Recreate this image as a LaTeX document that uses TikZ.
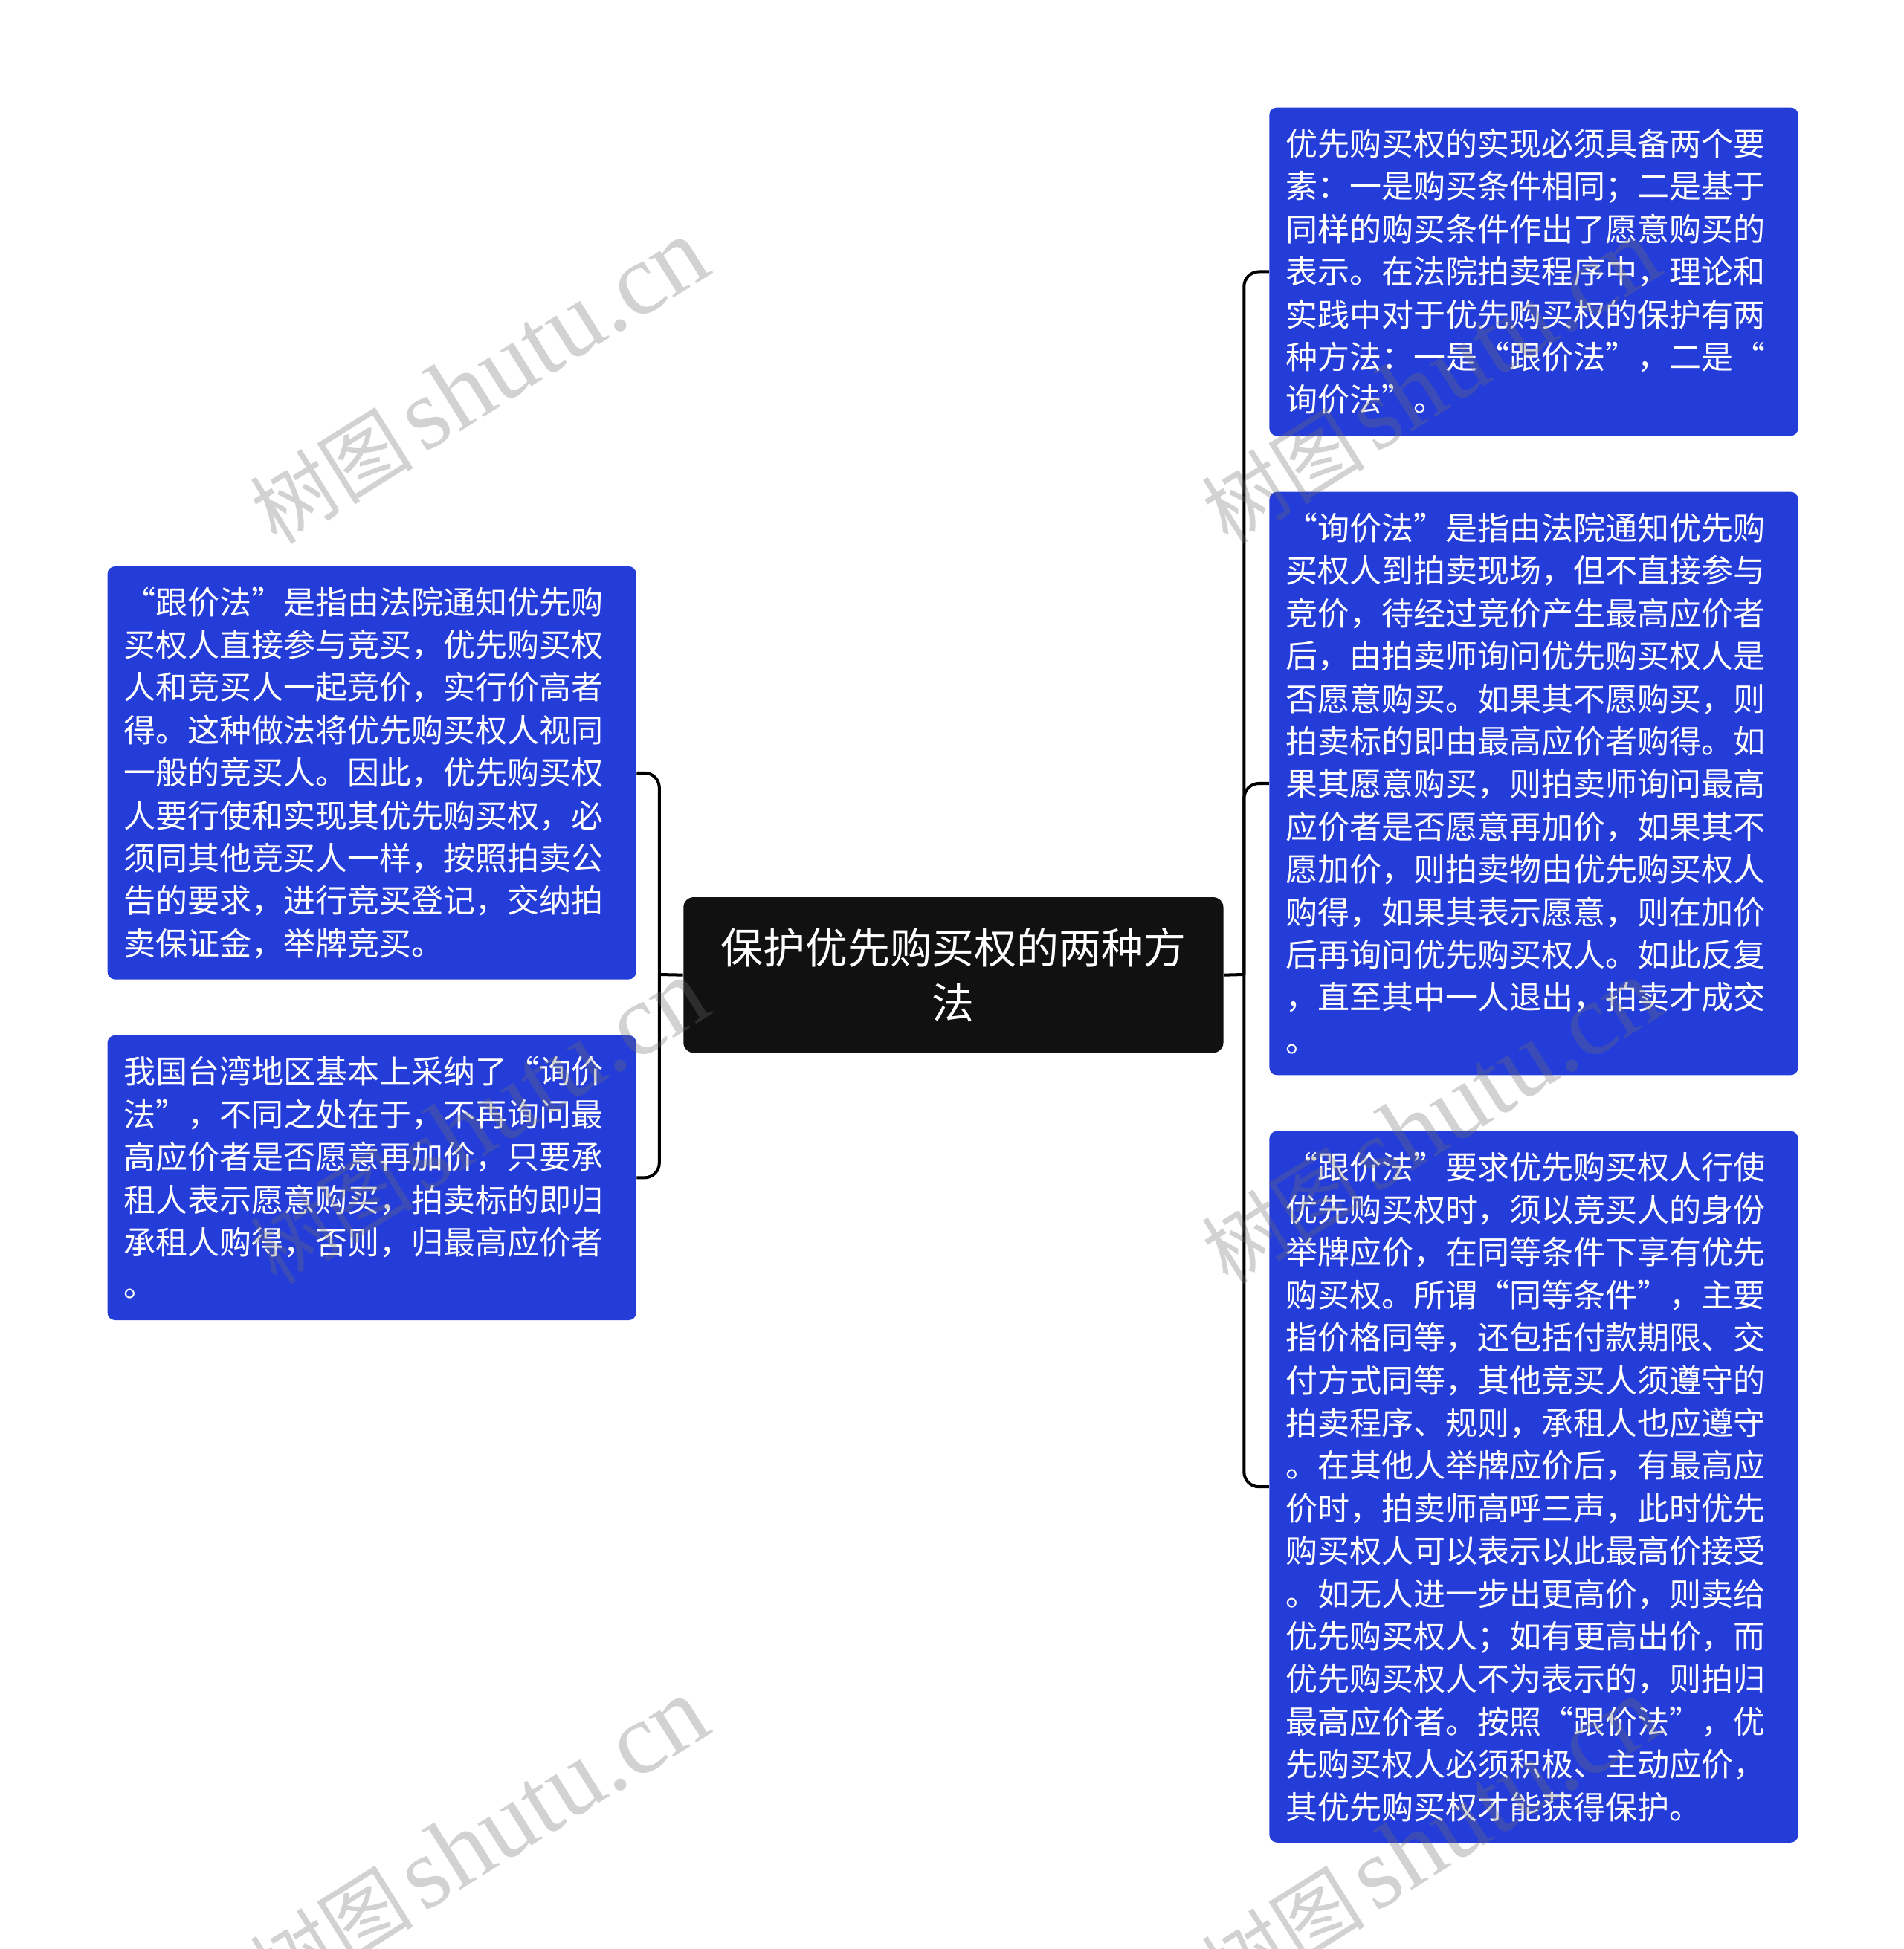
\documentclass[tikz,border=0pt]{standalone}
\usepackage{fontspec}
\setmainfont{Noto Sans CJK SC}[RawFeature=+fwid]
\newfontfamily\wmlatin{Liberation Serif}
\newfontfamily\wmcjk{Noto Sans CJK SC}
\definecolor{boxblue}{RGB}{37,61,216}
\definecolor{rootblack}{RGB}{17,17,17}
\definecolor{wmgray}{RGB}{110,110,110}
\newcommand{\wmtext}{{\wmcjk\fontsize{33}{36}\selectfont 树图}\hspace{4pt}{\wmlatin\fontsize{41}{44}\selectfont shutu.cn}}
\begin{document}
\begin{tikzpicture}[x=0.5pt,y=-0.5pt,
  leaf/.style={fill=boxblue, rounded corners=3pt, text=white, align=left,
    text width=199.5pt, inner xsep=6.5pt, inner ysep=0pt, minimum width=212.5pt,
    font=\fontsize{12.85}{17.15}\selectfont, anchor=north west},
  rootbox/.style={fill=rootblack, rounded corners=4pt, text=white, align=center,
    text width=205pt, inner xsep=6pt, inner ysep=0pt, minimum width=217pt, minimum height=62.5pt,
    font=\fontsize{17}{22}\selectfont, anchor=north west},
  conn/.style={draw=black, line width=1.2pt, rounded corners=6pt},
  wm/.style={text=wmgray, text opacity=0.31, rotate=32, inner sep=0pt}
]
\useasboundingbox (0,0) rectangle (1530,1567);

\node[rootbox] (root) at (549,721) {保护优先购买权的两种方\\法};

\node[leaf, minimum height=132pt] (r1) at (1020,86) {优先购买权的实现必须具备两个要\\
素：一是购买条件相同；二是基于\\
同样的购买条件作出了愿意购买的\\
表示。在法院拍卖程序中，理论和\\
实践中对于优先购买权的保护有两\\
种方法：一是“跟价法”，二是“\\
询价法”。};

\node[leaf, minimum height=234.5pt] (r2) at (1020,395) {“询价法”是指由法院通知优先购\\
买权人到拍卖现场，但不直接参与\\
竞价，待经过竞价产生最高应价者\\
后，由拍卖师询问优先购买权人是\\
否愿意购买。如果其不愿购买，则\\
拍卖标的即由最高应价者购得。如\\
果其愿意购买，则拍卖师询问最高\\
应价者是否愿意再加价，如果其不\\
愿加价，则拍卖物由优先购买权人\\
购得，如果其表示愿意，则在加价\\
后再询问优先购买权人。如此反复\\
，直至其中一人退出，拍卖才成交\\
。};

\node[leaf, minimum height=286pt] (r3) at (1020,909) {“跟价法”要求优先购买权人行使\\
优先购买权时，须以竞买人的身份\\
举牌应价，在同等条件下享有优先\\
购买权。所谓“同等条件”，主要\\
指价格同等，还包括付款期限、交\\
付方式同等，其他竞买人须遵守的\\
拍卖程序、规则，承租人也应遵守\\
。在其他人举牌应价后，有最高应\\
价时，拍卖师高呼三声，此时优先\\
购买权人可以表示以此最高价接受\\
。如无人进一步出更高价，则卖给\\
优先购买权人；如有更高出价，而\\
优先购买权人不为表示的，则拍归\\
最高应价者。按照“跟价法”，优\\
先购买权人必须积极、主动应价，\\
其优先购买权才能获得保护。};

\node[leaf, minimum height=166pt] (l1) at (86,455) {“跟价法”是指由法院通知优先购\\
买权人直接参与竞买，优先购买权\\
人和竞买人一起竞价，实行价高者\\
得。这种做法将优先购买权人视同\\
一般的竞买人。因此，优先购买权\\
人要行使和实现其优先购买权，必\\
须同其他竞买人一样，按照拍卖公\\
告的要求，进行竞买登记，交纳拍\\
卖保证金，举牌竞买。};

\node[leaf, minimum height=114.5pt] (l2) at (86,832) {我国台湾地区基本上采纳了“询价\\
法”，不同之处在于，不再询问最\\
高应价者是否愿意再加价，只要承\\
租人表示愿意购买，拍卖标的即归\\
承租人购得，否则，归最高应价者\\
。};

\coordinate (rj) at (1000,783.5);
\coordinate (lj) at (530,783.5);
\draw[conn] (root.east) -- (rj);
\draw[conn] (rj) |- (r1.west);
\draw[conn] (rj) |- (r2.west);
\draw[conn] (rj) |- (r3.west);
\draw[conn] (root.west) -- (lj);
\draw[conn] (lj) |- (l1.east);
\draw[conn] (lj) |- (l2.east);

\node[wm] (wm1) at (385,307) {\wmtext};
\node[wm] (wm2) at (385,902) {\wmtext};
\node[wm] (wm3) at (385,1480) {\wmtext};
\node[wm] (wm4) at (1150,307) {\wmtext};
\node[wm] (wm5) at (1150,902) {\wmtext};
\node[wm] (wm6) at (1150,1480) {\wmtext};
\end{tikzpicture}
\end{document}
